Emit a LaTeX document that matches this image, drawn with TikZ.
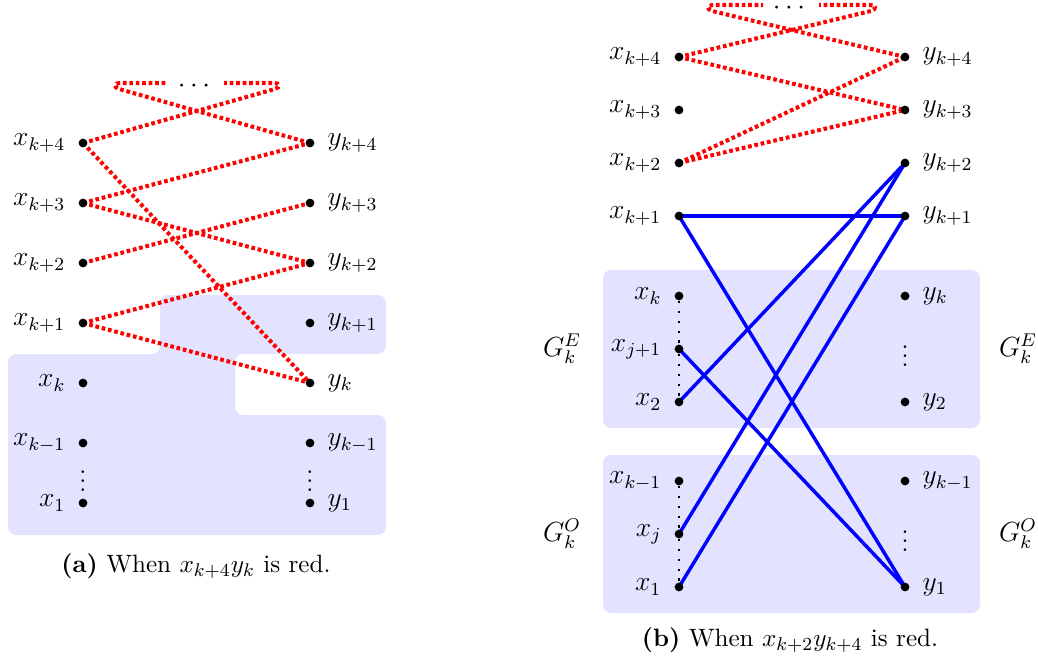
\documentclass[tikz,border=0pt]{standalone}
\pgfdeclarelayer{regions}
\pgfdeclarelayer{edges}
\pgfsetlayers{regions,edges,main}
\begin{document}
\begin{tikzpicture}[x=0.434pt,y=-0.434pt,
  v/.style={circle,fill=black,inner sep=0pt,minimum size=3.8pt},
  rd/.style={red,line width=1.75pt,dash pattern=on 1.6pt off 1.2pt},
  bl/.style={blue,line width=1.5pt},
  reg/.style={fill=blue!11,draw=none,rounded corners=3.5pt},
  dl/.style={line width=1.1pt,dash pattern=on 1.1pt off 3.2pt},
  lab/.style={font=\large},
  captext/.style={font=\fontsize{10.9}{13}\selectfont},
  every label/.style={font=\large},
  label distance=2pt]
\useasboundingbox (0,0) rectangle (1038,664);

% ---------- (a) ----------
\node[v,label={left:$x_{k+4}$}] (xa4) at (83,143) {};
\node[v,label={left:$x_{k+3}$}] (xa3) at (83,203) {};
\node[v,label={left:$x_{k+2}$}] (xa2) at (83,263) {};
\node[v,label={left:$x_{k+1}$}] (xa1) at (83,323) {};
\node[v,label={left:$x_{k}$}] (xa0) at (83,383) {};
\node[v,label={left:$x_{k-1}$}] (xam) at (83,443) {};
\node[v,label={left:$x_{1}$}] (xaf) at (83,503) {};
\node[v,label={right:$y_{k+4}$}] (ya4) at (310,143) {};
\node[v,label={right:$y_{k+3}$}] (ya3) at (310,203) {};
\node[v,label={right:$y_{k+2}$}] (ya2) at (310,263) {};
\node[v,label={right:$y_{k+1}$}] (ya1) at (310,323) {};
\node[v,label={right:$y_{k}$}] (ya0) at (310,383) {};
\node[v,label={right:$y_{k-1}$}] (yam) at (310,443) {};
\node[v,label={right:$y_{1}$}] (yaf) at (310,503) {};
\node[lab] (vda1) at (83,474) {$\vdots$};
\node[lab] (vda2) at (310,474) {$\vdots$};
\node[lab,inner sep=0pt] (dotsa) at (194,86) {$\cdots$};
\coordinate (la0) at (119,89);
\coordinate (la1) at (120,83);
\coordinate (la2) at (168,83);
\coordinate (ra0) at (275,89);
\coordinate (ra1) at (274,83);
\coordinate (ra2) at (224,83);

\begin{pgfonlayer}{regions}
\fill[reg] (160,295) -- (386,295) -- (386,354) -- (235,354) -- (235,415) -- (386,415)
  -- (386,535) -- (8,535) -- (8,354) -- (160,354) -- cycle;
\end{pgfonlayer}
\begin{pgfonlayer}{edges}
\draw[rd] (xa4.center) -- (ra0) .. controls (281,87) and (280,83) .. (ra1) -- (ra2);
\draw[rd] (ya4.center) -- (la0) .. controls (113,87) and (114,83) .. (la1) -- (la2);
\draw[rd] (xa4.center) -- (ya0.center);
\draw[rd] (xa3.center) -- (ya4.center);
\draw[rd] (xa3.center) -- (ya2.center);
\draw[rd] (xa2.center) -- (ya3.center);
\draw[rd] (xa1.center) -- (ya2.center);
\draw[rd] (xa1.center) -- (ya0.center);
\end{pgfonlayer}

\node[captext] (capa) at (196,566) {\textbf{(a)} When $x_{k+4}y_k$ is red.};

% ---------- (b) ----------
\node[v,label={left:$x_{k+4}$}] (xb4) at (679,57) {};
\node[v,label={left:$x_{k+3}$}] (xb3) at (679,110) {};
\node[v,label={left:$x_{k+2}$}] (xb2) at (679,163) {};
\node[v,label={left:$x_{k+1}$}] (xb1) at (679,216) {};
\node[v,label={left:$x_{k}$}] (xbk) at (679,296) {};
\node[v,label={left:$x_{j+1}$}] (xbj1) at (679,349) {};
\node[v,label={left:$x_{2}$}] (xb2b) at (679,402) {};
\node[v,label={left:$x_{k-1}$}] (xbkm) at (679,481) {};
\node[v,label={left:$x_{j}$}] (xbj) at (679,534) {};
\node[v,label={left:$x_{1}$}] (xbf) at (679,587) {};
\node[v,label={right:$y_{k+4}$}] (yb4) at (905,57) {};
\node[v,label={right:$y_{k+3}$}] (yb3) at (905,110) {};
\node[v,label={right:$y_{k+2}$}] (yb2) at (905,163) {};
\node[v,label={right:$y_{k+1}$}] (yb1) at (905,216) {};
\node[v,label={right:$y_{k}$}] (ybk) at (905,296) {};
\node[v,label={right:$y_{2}$}] (yb2b) at (905,402) {};
\node[v,label={right:$y_{k-1}$}] (ybkm) at (905,481) {};
\node[v,label={right:$y_{1}$}] (ybf) at (905,587) {};
\node[lab] (vdb1) at (905,349) {$\vdots$};
\node[lab] (vdb2) at (905,534) {$\vdots$};
\node[lab,inner sep=0pt] (dotsb) at (789,8) {$\cdots$};
\coordinate (lb0) at (712,11);
\coordinate (lb1) at (713,5);
\coordinate (lb2) at (763,5);
\coordinate (rb0) at (871,11);
\coordinate (rb1) at (870,5);
\coordinate (rb2) at (819,5);
\node[lab] (gel) at (562,349) {$G_k^E$};
\node[lab] (ger) at (1018,349) {$G_k^E$};
\node[lab] (gol) at (562,534) {$G_k^O$};
\node[lab] (gor) at (1018,534) {$G_k^O$};

\begin{pgfonlayer}{regions}
\fill[reg] (603,270) rectangle (980,428);
\fill[reg] (603,455) rectangle (980,613);
\end{pgfonlayer}
\begin{pgfonlayer}{edges}
\draw[dl] (xbk) -- (xbj1);
\draw[dl] (xbj1) -- (xb2b);
\draw[dl] (xbkm) -- (xbj);
\draw[dl] (xbj) -- (xbf);
\draw[rd] (xb4.center) -- (rb0) .. controls (877,9) and (876,5) .. (rb1) -- (rb2);
\draw[rd] (yb4.center) -- (lb0) .. controls (706,9) and (707,5) .. (lb1) -- (lb2);
\draw[rd] (xb4.center) -- (yb3.center);
\draw[rd] (xb2.center) -- (yb4.center);
\draw[rd] (xb2.center) -- (yb3.center);
\draw[bl] (xb1.center) -- (yb1.center);
\draw[bl] (xb1.center) -- (ybf.center);
\draw[bl] (xbj1.center) -- (ybf.center);
\draw[bl] (xb2b.center) -- (yb2.center);
\draw[bl] (xbj.center) -- (yb2.center);
\draw[bl] (xbf.center) -- (yb1.center);
\end{pgfonlayer}

\node[captext] (capb) at (790,640) {\textbf{(b)} When $x_{k+2}y_{k+4}$ is red.};
\end{tikzpicture}
\end{document}
